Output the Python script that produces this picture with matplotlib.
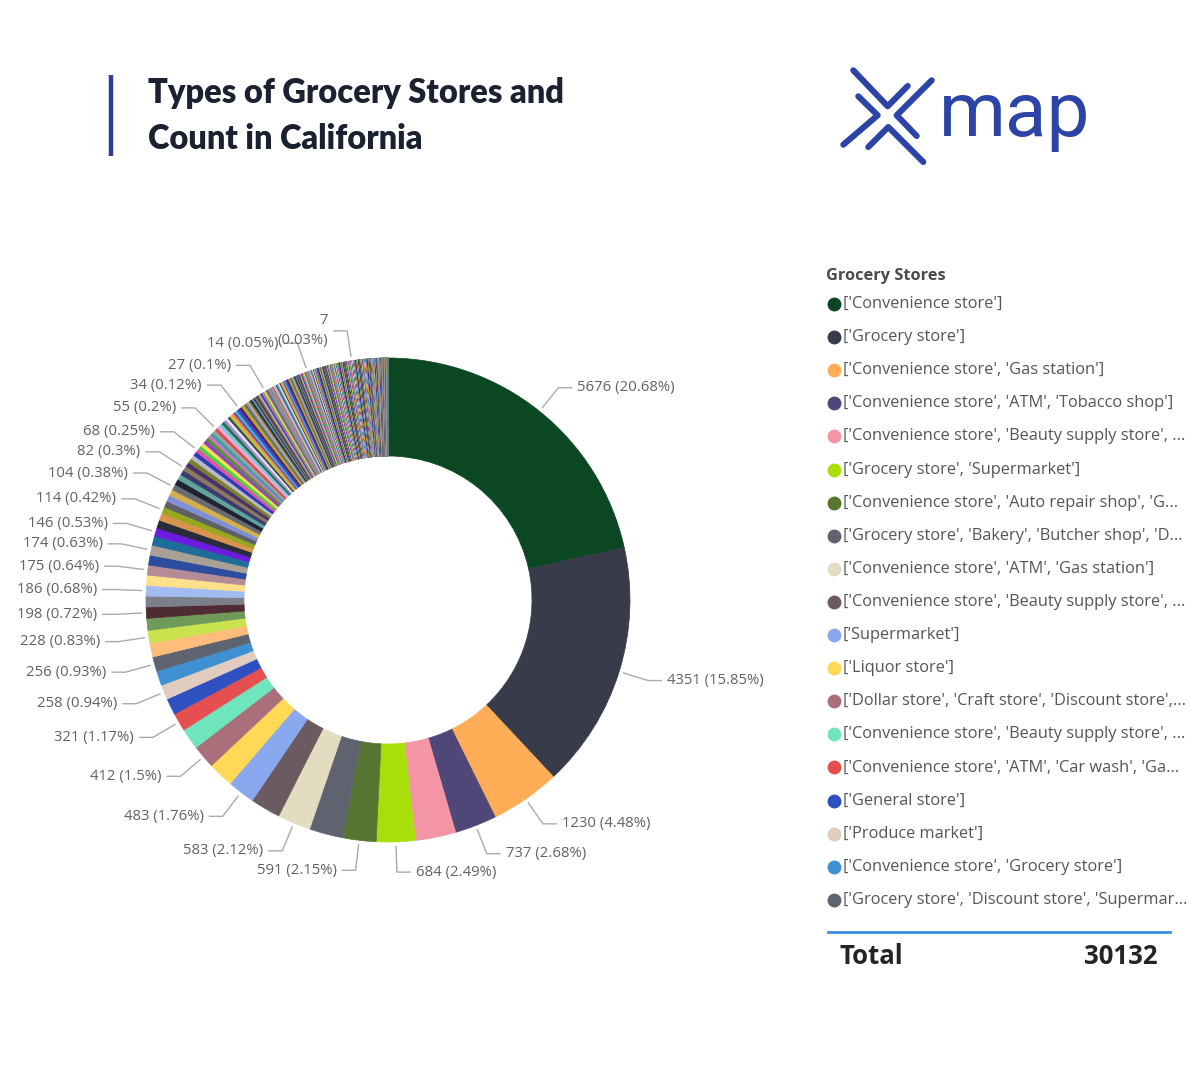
import numpy as np
import matplotlib
matplotlib.use("Agg")
import matplotlib.pyplot as plt

# ---------------- data ----------------
values = [
    5676, 4351, 1230, 737, 710, 684, 591, 587, 583, 530,
    483, 450, 412, 370, 321, 290, 258, 257, 256, 240,
    228, 210, 198, 190, 186, 180, 175, 175, 174, 165,
    146, 140, 130, 114, 112, 110, 108, 104, 100, 96,
    90, 82, 80, 78, 75, 72, 68, 66, 65, 63,
    62, 60, 58, 57, 55, 54, 52, 50, 48, 46,
    44, 42, 40, 38, 37, 35, 34, 33, 33, 32,
    32, 31, 31, 31, 30, 30, 30, 29, 29, 29,
    28, 28, 28, 28, 27, 27, 26, 26, 25, 25,
    24, 24, 24, 23, 23, 23, 22, 22, 22, 21,
    21, 21, 20, 20, 20, 20, 19, 19, 19, 19,
    18, 18, 18, 18, 17, 17, 17, 17, 16, 16,
    16, 15, 15, 15, 14, 14, 14, 14, 14, 14,
    14, 13, 13, 13, 13, 13, 13, 13, 13, 12,
    12, 12, 12, 12, 12, 12, 12, 12, 11, 11,
    11, 11, 11, 11, 11, 11, 11, 11, 10, 10,
    10, 10, 10, 10, 10, 10, 10, 10, 10, 10,
    9, 9, 9, 9, 9, 9, 9, 9, 9, 9, 9, 9, 9, 9,
    8, 8, 8, 8, 8, 8, 8, 8, 8, 8, 8, 8, 8, 8, 8, 8,
    7, 7, 7, 7, 7, 7, 7, 7, 7, 7, 7, 7, 7, 7, 7, 7,
    6, 6, 6, 6, 6, 6, 6, 6, 6, 6, 6, 6, 6, 6, 6, 6,
    5, 5, 5, 5, 5, 5, 5, 5, 5, 5, 5, 5, 5, 5, 5, 5, 5, 5,
    4, 4, 4, 4, 4, 4, 4, 4, 4, 4, 4, 4, 4, 4, 4, 4, 4, 4, 4, 4,
    3, 3, 3, 3, 3, 3, 3, 3, 3, 3, 3, 3, 3, 3, 3, 3, 3, 3, 3, 3, 3, 3, 3, 3, 3, 3,
    2, 2, 2, 2, 2, 2, 2, 2, 2, 2, 2, 2, 2, 2, 2, 2, 2, 2, 2, 2,
    2, 2, 2, 2, 2, 2, 2, 2, 2, 2, 2, 2, 2, 2, 2, 2, 2, 2, 2, 2,
    1, 1, 1, 1, 1, 1, 1, 1, 1, 1, 1, 1, 1, 1, 1, 1, 1, 1, 1, 1,
    1, 1, 1, 1, 1, 1, 1, 1, 1, 1, 1, 1, 1, 1, 1, 1, 1, 1, 1, 1,
    1, 1, 1, 1, 1, 1, 1, 1, 1, 1, 1, 1, 1, 1, 1, 1, 1, 1, 1, 1,
    1, 1, 1, 1, 1, 1, 1, 1, 1, 1, 1, 1, 1, 1, 1, 1, 1, 1, 1, 1,
    1, 1, 1, 1, 1, 1, 1, 1, 1, 1, 1, 1, 1, 1, 1, 1, 1, 1, 1, 1,
]

# labelled slices: value shown and its label text
label_values = [5676, 4351, 1230, 737, 684, 591, 583, 483, 412, 321,
                258, 256, 228, 198, 186, 175, 174, 146, 114, 104,
                82, 68, 55, 34, 27, 14, 7]
label_texts = ["5676 (20.68%)", "4351 (15.85%)", "1230 (4.48%)", "737 (2.68%)",
               "684 (2.49%)", "591 (2.15%)", "583 (2.12%)", "483 (1.76%)",
               "412 (1.5%)", "321 (1.17%)", "258 (0.94%)", "256 (0.93%)",
               "228 (0.83%)", "198 (0.72%)", "186 (0.68%)", "175 (0.64%)",
               "174 (0.63%)", "146 (0.53%)", "114 (0.42%)", "104 (0.38%)",
               "82 (0.3%)", "68 (0.25%)", "55 (0.2%)", "34 (0.12%)",
               "27 (0.1%)", "14 (0.05%)", "7\n(0.03%)"]

legend_names = [
    "['Convenience store']",
    "['Grocery store']",
    "['Convenience store', 'Gas station']",
    "['Convenience store', 'ATM', 'Tobacco shop']",
    "['Convenience store', 'Beauty supply store', ...",
    "['Grocery store', 'Supermarket']",
    "['Convenience store', 'Auto repair shop', 'G...",
    "['Grocery store', 'Bakery', 'Butcher shop', 'D...",
    "['Convenience store', 'ATM', 'Gas station']",
    "['Convenience store', 'Beauty supply store', ...",
    "['Supermarket']",
    "['Liquor store']",
    "['Dollar store', 'Craft store', 'Discount store',...",
    "['Convenience store', 'Beauty supply store', ...",
    "['Convenience store', 'ATM', 'Car wash', 'Ga...",
    "['General store']",
    "['Produce market']",
    "['Convenience store', 'Grocery store']",
    "['Grocery store', 'Discount store', 'Supermar...",
]
total_value = 30132
title_lines = ["Types of Grocery Stores and", "Count in California"]

# ---------------- styles ----------------
main_colors = [
    "#0A4722", "#373B4A", "#FFAE57", "#4E4777", "#F395A5", "#A8DF0A",
    "#557530", "#5F6370", "#E3DCC0", "#6B5B60", "#8AA8F0", "#FFD955",
    "#A96F7A", "#6EE5BC", "#E64F4F", "#2F50C0", "#E0CDBF", "#3F8FD3",
    "#5E6370", "#FFBC7A", "#C8E34D", "#6F9B5A", "#4F2B33", "#7A7F89",
    "#A2BCF2", "#FFE08A", "#B48C96", "#2C4C9F", "#A9A096",
]
tail_palette = [
    "#1D6D9B", "#6B1CDE", "#272B3B", "#D8944B", "#97A81E", "#5E6068",
    "#7F8FD8", "#D4B04C", "#6A6C74", "#1F2233", "#5EA59B", "#3E3A6E",
    "#8C7A5E", "#4A2E6E", "#7A7F2A", "#B9B9C9", "#2A3BB8", "#E54FA8",
    "#4FD043", "#F2E04A", "#8E44C8", "#5E8C3A", "#C87AB8", "#3CA0A8",
    "#A0A0A0", "#D35050", "#F7A8D8", "#6AD0E0", "#2E6B3E", "#9B8BE0",
    "#E8E8E8", "#444455", "#B0D040", "#FF8C40", "#7050A0", "#50B0F0",
]
colors = [main_colors[i] if i < len(main_colors)
          else tail_palette[(i - len(main_colors)) % len(tail_palette)]
          for i in range(len(values))]

W, H = 1200, 1080
fig = plt.figure(figsize=(W / 100, H / 100), dpi=100)
ax = fig.add_axes([0, 0, 1, 1])


def Y(y):
    return H - y


cx, cy = 388, Y(600)
R = 242
RING = 98

wedges, _ = ax.pie(values, colors=colors, startangle=90, counterclock=False,
                   radius=R, center=(cx, cy),
                   wedgeprops=dict(width=RING, linewidth=0.5))
for w in wedges:
    w.set_edgecolor(w.get_facecolor())

label_font = dict(family=["Open Sans", "DejaVu Sans"], fontsize=10.7, color="#626262")
line_col = "#AAAAAA"
for v, txt in zip(label_values, label_texts):
    i = values.index(v)
    w = wedges[i]
    a = np.deg2rad((w.theta1 + w.theta2) / 2)
    ca, sa = np.cos(a), np.sin(a)
    x0, y0 = cx + (R + 4) * ca, cy + (R + 4) * sa
    x1, y1 = cx + 1.125 * R * ca, cy + 1.125 * R * sa
    side = 1 if ca >= 0 else -1
    x2 = x1 + side * 14
    ax.plot([x0, x1, x2], [y0, y1, y1], color=line_col, lw=1, solid_capstyle="butt")
    ax.text(x2 + side * 5, y1, txt, ha="left" if side > 0 else "right",
            va="center", multialignment="right", linespacing=1.45, **label_font)

# ---------------- title ----------------
ax.plot([111, 111], [Y(75), Y(156)], color="#2A3F9E", lw=3.2, solid_capstyle="butt")
for k, t in enumerate(title_lines):
    ax.text(148, Y(93 + 46 * k), t, ha="left", va="center",
            family=["Lato", "DejaVu Sans"], fontweight="heavy", fontsize=23.5,
            color="#1B2130")

# ---------------- logo ----------------
logo_col = "#2B44A6"
logo_strokes = [
    [(853.3, 70.3), (887.7, 106.3), (907.7, 86.0)],
    [(858.3, 96.3), (877.7, 115.3), (843.3, 144.7)],
    [(931.7, 80.3), (896.7, 115.3), (916.7, 136.0)],
    [(868.3, 147.0), (888.3, 127.0), (923.3, 162.0)],
]
for pts in logo_strokes:
    xs = [p[0] for p in pts]
    ys = [Y(p[1]) for p in pts]
    ax.plot(xs, ys, color=logo_col, lw=4.4, solid_capstyle="round",
            solid_joinstyle="round")
ax.text(939, Y(136), "map", ha="left", va="baseline", family=["Roboto", "DejaVu Sans"],
        fontsize=55, fontweight="normal", color=logo_col)

# ---------------- legend ----------------
leg_font = ["Open Sans", "DejaVu Sans"]
ax.text(826, Y(276), "Grocery Stores", ha="left", va="center",
        family=leg_font, fontweight="bold", fontsize=11.8, color="#4A4A4A")
for k, name in enumerate(legend_names):
    yy = Y(304 + 33.1 * k)
    ax.plot([834], [yy], marker="o", markersize=10, color=colors[k], markeredgewidth=0)
    ax.text(843, yy, name, ha="left", va="center",
            family=leg_font, fontsize=11.8, color="#555555")

ax.plot([828, 1170], [Y(932), Y(932)], color="#3A8EEA", lw=2)
ax.text(839, Y(956), "Total", ha="left", va="center",
        family=leg_font, fontweight="bold", fontsize=18.5, color="#252423")
ax.text(1158, Y(956), f"{total_value}", ha="right", va="center",
        family=leg_font, fontweight="bold", fontsize=18.5, color="#252423")

ax.set_xlim(0, W)
ax.set_ylim(0, H)
ax.set_aspect("equal")
ax.axis("off")
fig.savefig("out.png", dpi=100, facecolor="white")
